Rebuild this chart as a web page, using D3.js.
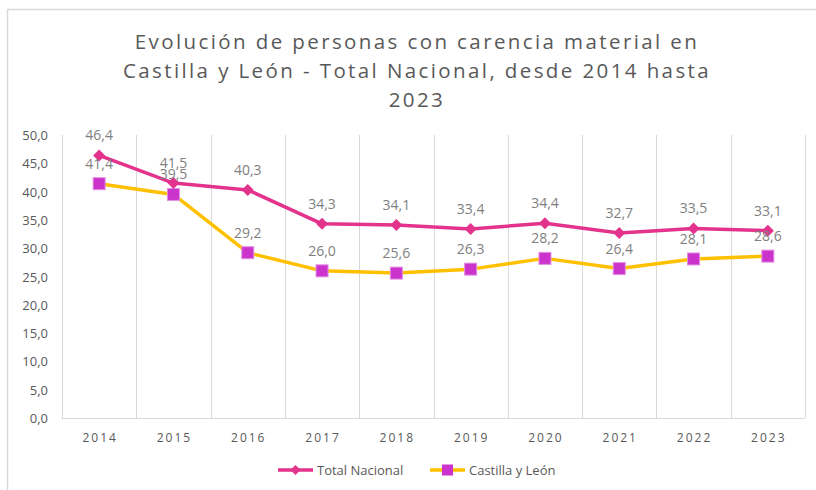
<!DOCTYPE html>
<html lang="es">
<head>
<meta charset="utf-8">
<title>Carencia material</title>
<script src="https://d3js.org/d3.v7.min.js"></script>
<style>
  body { margin: 0; padding: 0; background: #fff; overflow: hidden; }
  text { font-family: "Open Sans", "Noto Sans", sans-serif; }
</style>
</head>
<body>
<svg id="chart"></svg>
<script>
const years = ["2014", "2015", "2016", "2017", "2018", "2019", "2020", "2021", "2022", "2023"];
const totalNacional = [46.4, 41.5, 40.3, 34.3, 34.1, 33.4, 34.4, 32.7, 33.5, 33.1];
const castillaLeon = [41.4, 39.5, 29.2, 26.0, 25.6, 26.3, 28.2, 26.4, 28.1, 28.6];
const yTicks = [0, 5, 10, 15, 20, 25, 30, 35, 40, 45, 50];
const titleLines = [
  "Evolución de personas con carencia material en",
  "Castilla y León - Total Nacional, desde 2014 hasta",
  "2023"
];

const W = 816, H = 490;
const svg = d3.select("#chart").attr("width", W).attr("height", H);

const fmt = v => v.toFixed(1).replace(".", ",");

// chart frame
svg.append("path")
  .attr("d", `M7.5,${H} V9.5 H${W}`)
  .attr("fill", "none").attr("stroke", "#d9d9d9").attr("stroke-width", 1.5);

// title
svg.append("g").selectAll("text")
  .data(titleLines)
  .join("text")
  .attr("x", 417)
  .attr("y", (d, i) => 49 + i * 29)
  .attr("text-anchor", "middle")
  .attr("font-size", 20.5)
  .attr("letter-spacing", 2.4)
  .attr("fill", "#595959")
  .text(d => d);

const x = d3.scaleBand().domain(years).range([62, 805]);
const y = d3.scaleLinear().domain([0, 50]).range([418, 135]);

// vertical gridlines at category boundaries
const bounds = years.map(d => x(d)).concat([x.range()[1]]);
svg.append("g").selectAll("line")
  .data(bounds)
  .join("line")
  .attr("x1", d => Math.round(d) + 0.5).attr("x2", d => Math.round(d) + 0.5)
  .attr("y1", y(50)).attr("y2", y(0))
  .attr("stroke", "#d9d9d9").attr("stroke-width", 1);

// baseline
svg.append("line")
  .attr("x1", x.range()[0]).attr("x2", x.range()[1])
  .attr("y1", y(0) + 0.5).attr("y2", y(0) + 0.5)
  .attr("stroke", "#d9d9d9").attr("stroke-width", 1);

// y axis labels
svg.append("g").selectAll("text")
  .data(yTicks)
  .join("text")
  .attr("x", 48)
  .attr("y", d => y(d) + 5)
  .attr("text-anchor", "end")
  .attr("font-size", 13)
  .attr("fill", "#595959")
  .text(fmt);

// x axis labels
svg.append("g").selectAll("text")
  .data(years)
  .join("text")
  .attr("x", d => x(d) + x.bandwidth() / 2 + 1)
  .attr("y", 442)
  .attr("text-anchor", "middle")
  .attr("font-size", 12)
  .attr("letter-spacing", 2)
  .attr("fill", "#595959")
  .text(d => d);

const cx = i => x(years[i]) + x.bandwidth() / 2;

const series = [
  { name: "Total Nacional", values: totalNacional, color: "#e3338d", marker: "diamond" },
  { name: "Castilla y León", values: castillaLeon, color: "#ffc000", marker: "square" }
];
const markerFill = { diamond: "#e3338d", square: "#cc33cc" };

const line = d3.line().x((d, i) => cx(i)).y(d => y(d));

function drawMarker(g, type, px, py) {
  if (type === "diamond") {
    g.append("path")
      .attr("d", `M${px},${py - 6} L${px + 6},${py} L${px},${py + 6} L${px - 6},${py} Z`)
      .attr("fill", markerFill.diamond);
  } else {
    g.append("rect")
      .attr("x", px - 6).attr("y", py - 6).attr("width", 12).attr("height", 12)
      .attr("fill", markerFill.square)
      .attr("stroke", "#e28ee2").attr("stroke-width", 1);
  }
}

// yellow series drawn first, pink on top
[series[1], series[0]].forEach(s => {
  const g = svg.append("g");
  g.append("path")
    .datum(s.values)
    .attr("d", line)
    .attr("fill", "none")
    .attr("stroke", s.color)
    .attr("stroke-width", 3.5)
    .attr("stroke-linejoin", "round");
  s.values.forEach((v, i) => drawMarker(g, s.marker, cx(i), y(v)));
});

// data labels
series.forEach(s => {
  svg.append("g").selectAll("text")
    .data(s.values)
    .join("text")
    .attr("x", (d, i) => cx(i))
    .attr("y", d => y(d) - 15)
    .attr("text-anchor", "middle")
    .attr("font-size", 14)
    .attr("fill", "#7f7f7f")
    .text(fmt);
});

// legend
const legend = [
  { s: series[0], x0: 278, tx: 317 },
  { s: series[1], x0: 430, tx: 469 }
];
legend.forEach(l => {
  const g = svg.append("g");
  g.append("line")
    .attr("x1", l.x0).attr("x2", l.x0 + 35)
    .attr("y1", 470).attr("y2", 470)
    .attr("stroke", l.s.color).attr("stroke-width", 3.5);
  if (l.s.marker === "diamond") {
    g.append("path")
      .attr("d", `M${l.x0 + 17.5},465 L${l.x0 + 22.5},470 L${l.x0 + 17.5},475 L${l.x0 + 12.5},470 Z`)
      .attr("fill", markerFill.diamond);
  } else {
    g.append("rect")
      .attr("x", l.x0 + 12).attr("y", 464.5).attr("width", 11).attr("height", 11)
      .attr("fill", markerFill.square);
  }
  g.append("text")
    .attr("x", l.tx).attr("y", 475)
    .attr("font-size", 13)
    .attr("fill", "#595959")
    .text(l.s.name);
});
</script>
</body>
</html>
